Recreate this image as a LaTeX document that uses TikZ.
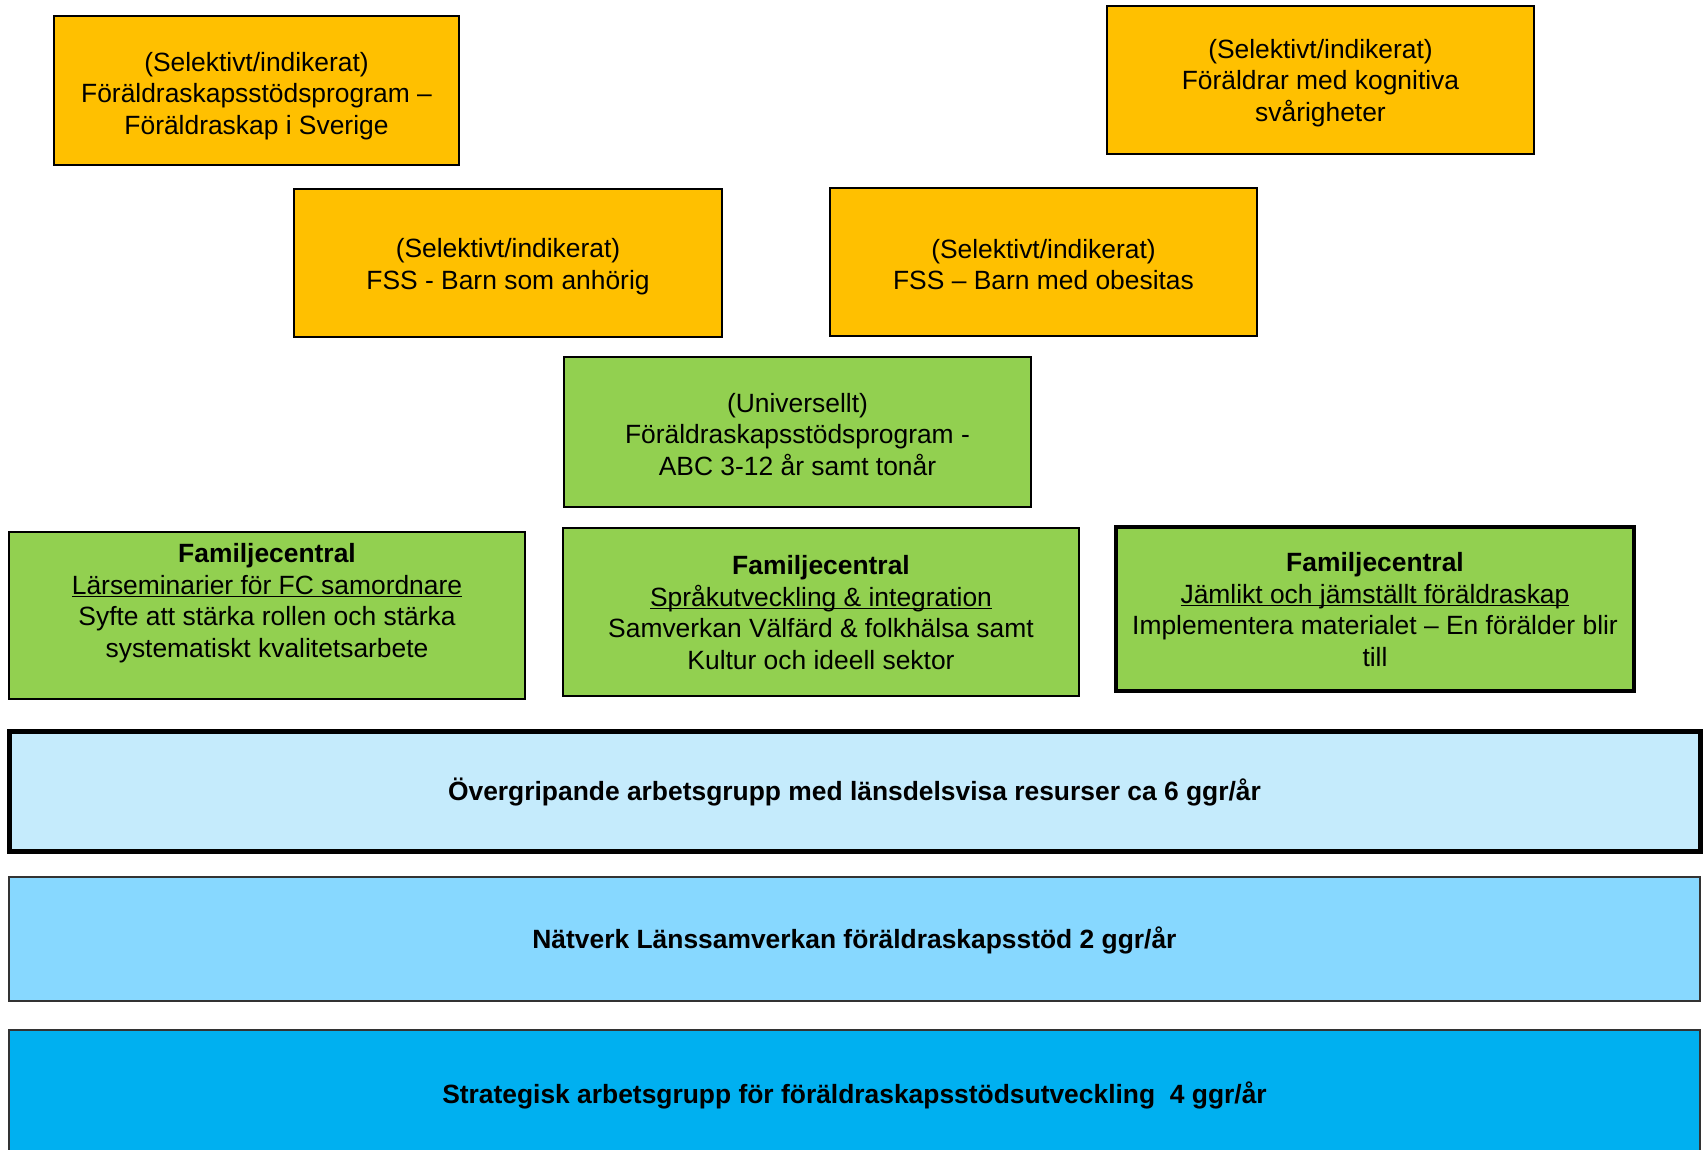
\documentclass[tikz,border=0pt]{standalone}
\usepackage{fontspec}
\setmainfont{Liberation Sans}
\definecolor{orng}{HTML}{FFC000}
\definecolor{grn}{HTML}{92D050}
\definecolor{blueA}{HTML}{C5EBFC}
\definecolor{blueB}{HTML}{87D8FF}
\definecolor{blueC}{HTML}{00B0F0}
\newcommand{\mainsz}{\fontsize{13.2}{15.75}\selectfont}
\newcommand{\myul}[1]{\setbox0\hbox{#1}\rlap{\rule[-1.5pt]{\wd0}{0.8pt}}\box0}
\begin{document}
\begin{tikzpicture}[x=0.5pt,y=-0.5pt,
  basebox/.style={draw=black, line width=1pt, rectangle, inner sep=0pt},
  obox/.style={basebox, fill=orng},
  gbox/.style={basebox, fill=grn},
  barbox/.style={basebox, minimum width=845.5pt},
  txt/.style={inner sep=0pt, align=center, font=\mainsz}]
\useasboundingbox (0,0) rectangle (1704,1150);

% orange selective boxes
\node[obox, minimum width=202.5pt, minimum height=74.5pt] (sel1) at (256.5,90.5) {};
\node[txt] (sel1t) at ([yshift=-2.7pt]sel1.center)
  {(Selektivt/indikerat)\\Föräldraskapsstödsprogram –\\Föräldraskap i Sverige};
\node[obox, minimum width=213.5pt, minimum height=74pt] (sel2) at (1320.5,80) {};
\node[txt] (sel2t) at ([yshift=-1.4pt]sel2.center)
  {(Selektivt/indikerat)\\Föräldrar med kognitiva\\svårigheter};
\node[obox, minimum width=214pt, minimum height=74pt] (sel3) at (508,263) {};
\node[txt] (sel3t) at ([yshift=-1.9pt]sel3.center)
  {(Selektivt/indikerat)\\FSS - Barn som anhörig};
\node[obox, minimum width=213.5pt, minimum height=74pt] (sel4) at (1043.5,262) {};
\node[txt] (sel4t) at ([yshift=-1.4pt]sel4.center)
  {(Selektivt/indikerat)\\FSS – Barn med obesitas};

% universal
\node[gbox, minimum width=233.5pt, minimum height=75pt] (univ) at (797.5,432) {};
\node[txt] (univt) at ([yshift=-1.1pt]univ.center)
  {(Universellt)\\Föräldraskapsstödsprogram -\\ABC 3-12 år samt tonår};

% family centres
\node[gbox, minimum width=258pt, minimum height=83.5pt] (fc1) at (267,615.5) {};
\node[txt] (fc1t) at ([yshift=6.1pt]fc1.center)
  {\textbf{Familjecentral}\\\myul{Lärseminarier för FC samordnare}\\Syfte att stärka rollen och stärka\\systematiskt kvalitetsarbete};
\node[gbox, minimum width=258pt, minimum height=84pt] (fc2) at (821,612) {};
\node[txt] (fc2t) at ([yshift=-0.3pt]fc2.center)
  {\textbf{Familjecentral}\\\myul{Språkutveckling \& integration}\\Samverkan Välfärd \& folkhälsa samt\\Kultur och ideell sektor};
\node[gbox, line width=2.4pt, minimum width=259pt, minimum height=82pt] (fc3) at (1375,609) {};
\node[txt] (fc3t) at ([yshift=-0.3pt]fc3.center)
  {\textbf{Familjecentral}\\\myul{Jämlikt och jämställt föräldraskap}\\Implementera materialet – En förälder blir\\till};

% bars
\node[barbox, fill=blueA, line width=2.5pt, minimum height=60pt] (bar1) at (854.5,791) {};
\node[txt] (bar1t) at ([yshift=-0.5pt]bar1.center)
  {\textbf{Övergripande arbetsgrupp med länsdelsvisa resurser ca 6 ggr/år}};
\node[barbox, fill=blueB, draw=black!80, minimum height=62pt] (bar2) at (854.5,939) {};
\node[txt] (bar2t) at ([yshift=-0.5pt]bar2.center)
  {\textbf{Nätverk Länssamverkan föräldraskapsstöd 2 ggr/år}};
\node[barbox, fill=blueC, draw=black!80, minimum height=64pt] (bar3) at (854.5,1094) {};
\node[txt] (bar3t) at ([yshift=-0.5pt]bar3.center)
  {\textbf{Strategisk arbetsgrupp för föräldraskapsstödsutveckling\ \ 4 ggr/år}};
\end{tikzpicture}
\end{document}
